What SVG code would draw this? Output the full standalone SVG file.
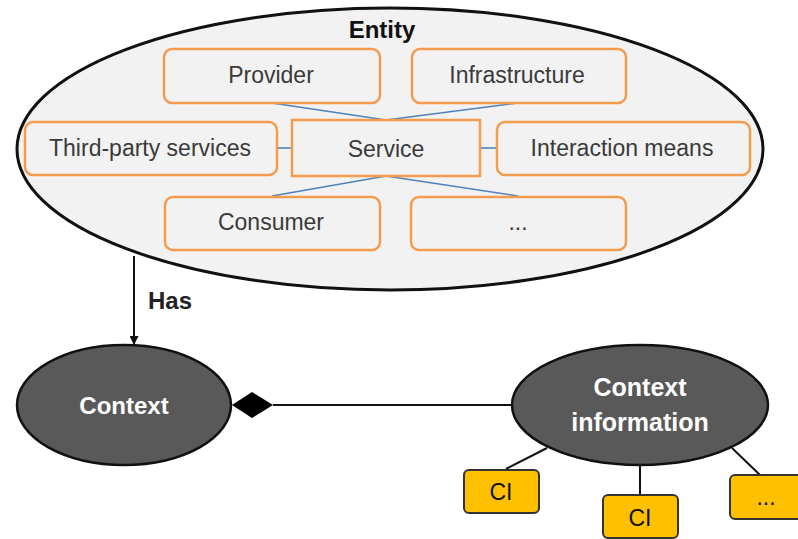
<svg xmlns="http://www.w3.org/2000/svg" width="798" height="539" viewBox="0 0 798 539">
<defs>
<style>
.box{fill:#f2f2f2;stroke:#f59b4e;stroke-width:2.5}
.t{font-family:"Liberation Sans",Arial,sans-serif;font-size:23px;fill:#3a3a3a;text-anchor:middle}
.b{font-family:"Liberation Sans",Arial,sans-serif;font-weight:bold;text-anchor:middle}
.blue{stroke:#4f81bd;stroke-width:1.6;fill:none}
.dark{fill:#595959;stroke:#111;stroke-width:2.5}
.ci{fill:#ffc000;stroke:#333;stroke-width:2}
.ln{stroke:#111;stroke-width:2;fill:none}
</style>
<marker id="arr" viewBox="0 0 10 10" refX="10" refY="5" markerWidth="9" markerHeight="9" markerUnits="userSpaceOnUse" orient="auto">
<path d="M0,0 L10,5 L0,10 z" fill="#111"/>
</marker>
</defs>
<rect width="798" height="539" fill="#fff"/>

<g id="entity">
<ellipse cx="390" cy="149" rx="373" ry="141" fill="#f2f2f2" stroke="#111" stroke-width="3"/>
<text class="b" x="382" y="38" font-size="24" fill="#111">Entity</text>
</g>

<g id="connectors">
<line class="blue" x1="272" y1="103" x2="386" y2="120"/>
<line class="blue" x1="518" y1="103" x2="386" y2="120"/>
<line class="blue" x1="386" y1="176" x2="272" y2="196"/>
<line class="blue" x1="386" y1="176" x2="518" y2="196"/>
<line class="blue" x1="277" y1="148" x2="292" y2="148"/>
<line class="blue" x1="480" y1="148" x2="497" y2="148"/>
<line class="ln" x1="134" y1="256" x2="134" y2="345" marker-end="url(#arr)"/>
<line class="ln" x1="273" y1="405" x2="513" y2="405"/>
<path d="M232,405 L252,392 L273,405 L252,418 z" fill="#000"/>
<line class="ln" x1="506" y1="469" x2="547" y2="448"/>
<line class="ln" x1="640" y1="465" x2="640" y2="495"/>
<line class="ln" x1="732" y1="448" x2="760" y2="475"/>
</g>
<text class="b" x="170" y="309" font-size="24" fill="#222">Has</text>

<g id="provider">
<rect class="box" x="164" y="49" width="216" height="54" rx="8"/>
<text class="t" x="271" y="83">Provider</text>
</g>
<g id="infrastructure">
<rect class="box" x="412" y="49" width="214" height="54" rx="8"/>
<text class="t" x="517" y="83">Infrastructure</text>
</g>
<g id="third-party">
<rect class="box" x="25" y="122" width="252" height="53" rx="8"/>
<text class="t" x="150" y="156">Third-party services</text>
</g>
<g id="service">
<rect class="box" x="292" y="120" width="188" height="56"/>
<text class="t" x="386" y="157">Service</text>
</g>
<g id="interaction">
<rect class="box" x="497" y="122" width="253" height="53" rx="8"/>
<text class="t" x="622" y="156">Interaction means</text>
</g>
<g id="consumer">
<rect class="box" x="165" y="197" width="215" height="53" rx="8"/>
<text class="t" x="271" y="230">Consumer</text>
</g>
<g id="etc">
<rect class="box" x="411" y="197" width="215" height="53" rx="8"/>
<text class="t" x="518" y="230">...</text>
</g>

<g id="context">
<ellipse class="dark" cx="124" cy="405" rx="107" ry="60"/>
<text class="b" x="124" y="414" font-size="24" fill="#fff">Context</text>
</g>
<g id="context-information">
<ellipse class="dark" cx="640" cy="405" rx="128" ry="60"/>
<text class="b" x="640" y="396" font-size="25" fill="#fff">Context</text>
<text class="b" x="640" y="431" font-size="25" fill="#fff">information</text>
</g>
<g id="ci1">
<rect class="ci" x="464" y="470" width="75" height="43" rx="5"/>
<text class="t" x="501" y="500" fill="#111" style="fill:#111">CI</text>
</g>
<g id="ci2">
<rect class="ci" x="603" y="495" width="75" height="43" rx="5"/>
<text class="t" x="640" y="526" style="fill:#111">CI</text>
</g>
<g id="ci3">
<rect class="ci" x="730" y="475" width="75" height="44" rx="5"/>
<text class="t" x="766" y="505" style="fill:#111">...</text>
</g>
</svg>
